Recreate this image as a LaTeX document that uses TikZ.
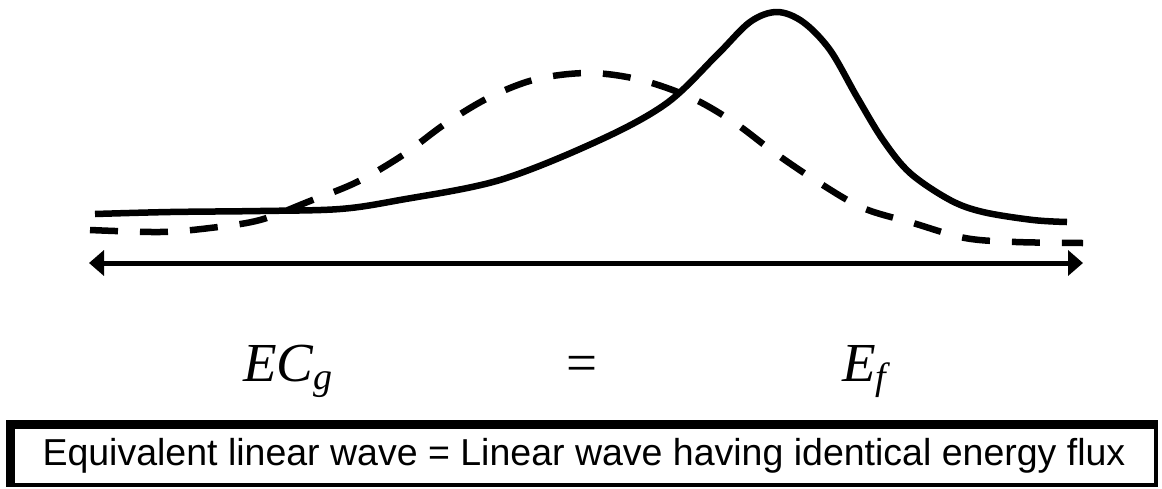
\documentclass[tikz,border=0pt]{standalone}
\usepackage{fontspec}
\setmainfont{Liberation Serif}
\newfontfamily\boxfont{Liberation Sans}
\usetikzlibrary{arrows.meta,positioning}
\newcommand{\wsub}[1]{\raisebox{-0.15em}{\fontsize{38}{40}\selectfont #1}}

\begin{document}
\begin{tikzpicture}[x=1pt, y=-1pt,
  wave/.style={line width=6.5pt, line join=round},
  eqwave/.style={wave, dash pattern=on 28pt off 22pt},
  eq/.style={font=\fontsize{55}{60}\selectfont, inner sep=0pt},
  caption/.style={draw, line width=3.5pt, inner sep=0pt, minimum width=1144pt, minimum height=59pt,
    font=\boxfont\fontsize{37.5}{40}\selectfont}
]
\useasboundingbox (0,0) rectangle (1162,488);
% solitary wave (solid) and equivalent linear wave (dashed)
\draw[wave] plot[smooth, tension=0.55] coordinates {(95,214) (170,212) (260,211) (340,209) (400,200)
  (500,180) (600,140) (667,103) (717,55) (750,22) (777,12) (803,22) (830,50) (857,97) (883,140)
  (910,173) (950,200) (983,212) (1033,220) (1067,222)};
\draw[eqwave] plot[smooth, tension=0.55] coordinates {(90,230) (160,232) (210,228) (260,220) (310,201)
  (357,182) (403,155) (445,124) (490,97) (537,79) (590,73) (641,80) (692,98) (735,123) (775,153)
  (818,182) (863,208) (913,223) (965,238) (1016,242) (1083,243)};
\coordinate (xl) at (89,263);
\coordinate (xr) at (1083,263);
\draw[line width=5pt, {Triangle[length=15pt,width=25pt]}-{Triangle[length=15pt,width=25pt]}] (xl) -- (xr);
\node[eq, anchor=base west] (ecg) at (243,381) {\itshape EC\wsub{g}};
\node[eq, anchor=base] (equal) at (582,381) {=};
\node[eq, anchor=base west] (ef) at (842,381) {\itshape E\wsub{f}};
\node[caption] (cap) at (584,455.5) {Equivalent linear wave = Linear wave having identical energy flux};
\draw[line width=9pt] (cap.south west) -- (cap.north west) -- (cap.north east);
\end{tikzpicture}
\end{document}
